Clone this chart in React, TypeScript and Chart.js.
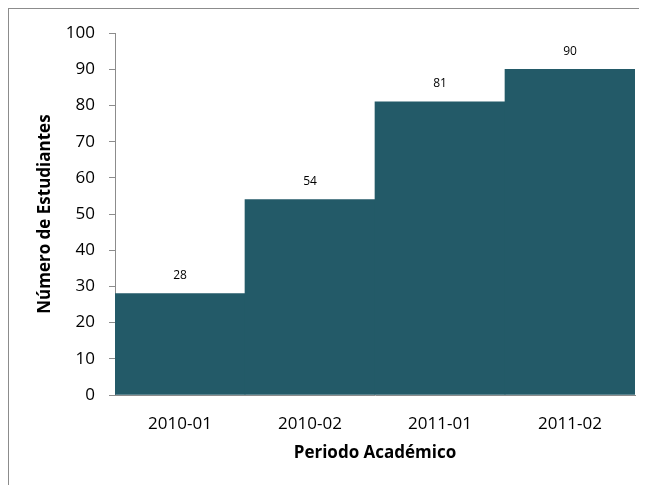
import React, { useEffect, useRef } from "react";
import { Chart, registerables } from "chart.js";

Chart.register(...registerables);

const categories = ["2010-01", "2010-02", "2011-01", "2011-02"];
const students = [28, 54, 81, 90];
const yTicks = [0, 10, 20, 30, 40, 50, 60, 70, 80, 90, 100];

const FONT = "'Open Sans', 'Liberation Sans', sans-serif";

const valueLabels = {
  id: "valueLabels",
  afterDatasetsDraw(chart: any) {
    const ctx = chart.ctx;
    const meta = chart.getDatasetMeta(0);
    ctx.save();
    ctx.font = `12px ${FONT}`;
    ctx.fillStyle = "#000";
    ctx.textAlign = "center";
    ctx.textBaseline = "middle";
    meta.data.forEach((bar: any, i: number) => {
      ctx.fillText(String(chart.data.datasets[0].data[i]), bar.x, bar.y - 18);
    });
    ctx.restore();
  },
};

export default function App() {
  const ref = useRef<HTMLCanvasElement>(null);
  useEffect(() => {
    if (!ref.current) return;
    const chart = new Chart(ref.current, {
      type: "bar",
      data: {
        labels: categories,
        datasets: [
          {
            data: students,
            backgroundColor: "#235a68",
            borderWidth: 0,
            categoryPercentage: 1,
            barPercentage: 1,
          },
        ],
      },
      options: {
        responsive: false,
        animation: false,
        layout: { padding: { left: 0, top: 23, right: 12, bottom: 0 } },
        plugins: { legend: { display: false }, tooltip: { enabled: false } },
        scales: {
          x: {
            grid: { display: false, drawTicks: false },
            border: { display: true, color: "#8c8c8c", width: 1 },
            ticks: { font: { family: FONT, size: 17 }, color: "#000", padding: 19 },
            title: {
              display: true,
              text: "Periodo Académico",
              font: { family: FONT, size: 17, weight: "bold" },
              color: "#000",
              padding: { top: 0, bottom: 22 },
            },
            afterFit(scale: any) {
              scale.height = 90;
            },
          },
          y: {
            min: 0,
            max: 100,
            afterBuildTicks(scale: any) {
              scale.ticks = yTicks.map((v) => ({ value: v }));
            },
            grid: {
              display: true,
              drawOnChartArea: false,
              drawTicks: true,
              tickLength: 6,
              color: "#8c8c8c",
            },
            border: { display: true, color: "#8c8c8c", width: 1 },
            ticks: { font: { family: FONT, size: 17 }, color: "#000", padding: 14 },
            title: {
              display: true,
              text: "Número de Estudiantes",
              font: { family: FONT, size: 17, weight: "bold" },
              color: "#000",
              padding: { top: 26, bottom: 0 },
            },
            afterFit(scale: any) {
              scale.width = 106;
            },
          },
        },
      },
      plugins: [valueLabels],
    });
    return () => chart.destroy();
  }, []);
  return (
    <div
      style={{
        width: 700,
        height: 477,
        borderTop: "1px solid #8c8c8c",
        borderLeft: "1px solid #8c8c8c",
        boxSizing: "border-box",
      }}
    >
      <canvas ref={ref} width={638} height={476} style={{ display: "block" }} />
    </div>
  );
}
